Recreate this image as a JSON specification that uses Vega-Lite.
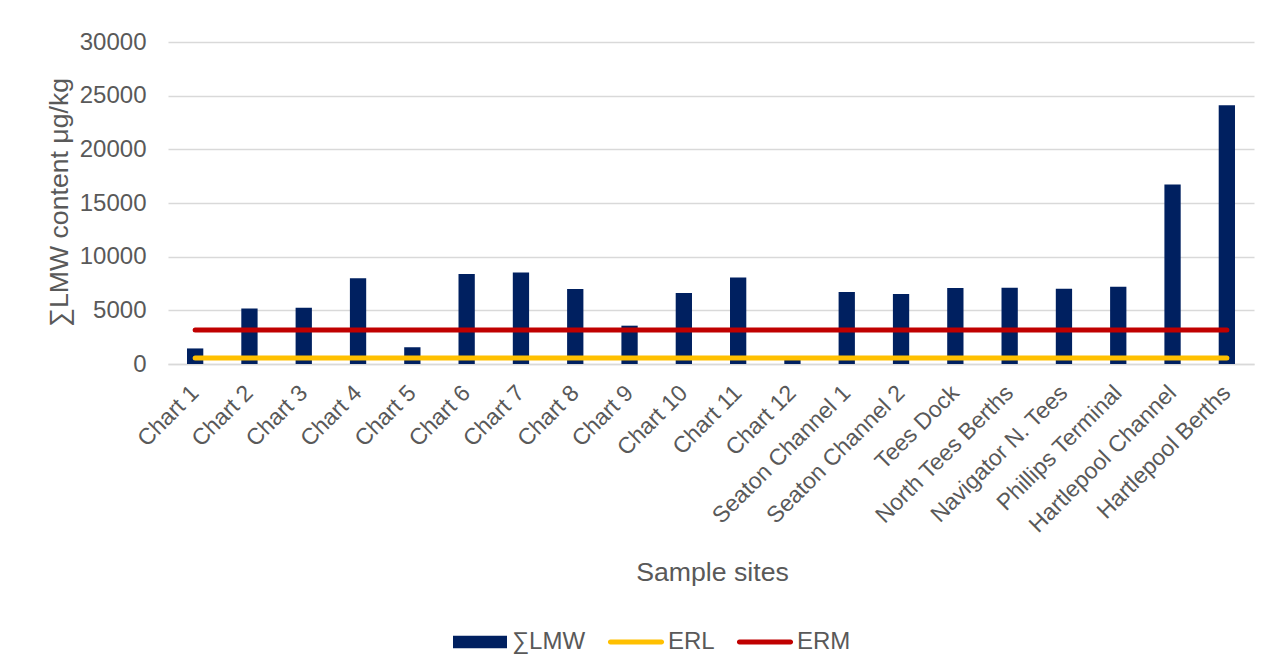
{
  "$schema": "https://vega.github.io/schema/vega-lite/v6.json",
  "autosize": "none",
  "width": 1086,
  "height": 322,
  "padding": {"left": 168, "top": 42, "right": 17, "bottom": 304},
  "background": "white",
  "config": {
    "font": "Liberation Sans",
    "view": {"stroke": null},
    "axis": {"labelColor": "#595959", "titleColor": "#595959", "labelFont": "Liberation Sans", "titleFont": "Liberation Sans", "titleFontWeight": "normal"}
  },
  "data": {"values": [
    {"site": "Chart 1", "lmw": 1450, "erl": 552, "erm": 3160},
    {"site": "Chart 2", "lmw": 5180, "erl": 552, "erm": 3160},
    {"site": "Chart 3", "lmw": 5250, "erl": 552, "erm": 3160},
    {"site": "Chart 4", "lmw": 7980, "erl": 552, "erm": 3160},
    {"site": "Chart 5", "lmw": 1550, "erl": 552, "erm": 3160},
    {"site": "Chart 6", "lmw": 8380, "erl": 552, "erm": 3160},
    {"site": "Chart 7", "lmw": 8520, "erl": 552, "erm": 3160},
    {"site": "Chart 8", "lmw": 6990, "erl": 552, "erm": 3160},
    {"site": "Chart 9", "lmw": 3570, "erl": 552, "erm": 3160},
    {"site": "Chart 10", "lmw": 6610, "erl": 552, "erm": 3160},
    {"site": "Chart 11", "lmw": 8060, "erl": 552, "erm": 3160},
    {"site": "Chart 12", "lmw": 400, "erl": 552, "erm": 3160},
    {"site": "Seaton Channel 1", "lmw": 6700, "erl": 552, "erm": 3160},
    {"site": "Seaton Channel 2", "lmw": 6520, "erl": 552, "erm": 3160},
    {"site": "Tees Dock", "lmw": 7080, "erl": 552, "erm": 3160},
    {"site": "North Tees Berths", "lmw": 7110, "erl": 552, "erm": 3160},
    {"site": "Navigator N. Tees", "lmw": 7020, "erl": 552, "erm": 3160},
    {"site": "Phillips Terminal", "lmw": 7200, "erl": 552, "erm": 3160},
    {"site": "Hartlepool Channel", "lmw": 16730, "erl": 552, "erm": 3160},
    {"site": "Hartlepool Berths", "lmw": 24110, "erl": 552, "erm": 3160}
  ]},
  "encoding": {
    "x": {
      "field": "site", "type": "nominal", "sort": null,
      "scale": {"paddingInner": 0.7, "paddingOuter": 0.35},
      "axis": {
        "title": "Sample sites", "titleFontSize": 26.67, "titleX": 544, "titleY": 208, "titleBaseline": "middle", "titleAlign": "center",
        "labelAngle": -45, "labelAlign": "right", "labelBaseline": "middle", "labelFontSize": 23, "labelPadding": 25, "labelLimit": 0,
        "ticks": false, "domainColor": "#D9D9D9", "domainWidth": 1.5, "grid": false, "labelOverlap": false
      }
    }
  },
  "layer": [
    {
      "mark": {"type": "bar"},
      "encoding": {
        "y": {
          "field": "lmw", "type": "quantitative",
          "scale": {"domain": [0, 30000], "nice": false},
          "axis": {
            "title": "∑LMW content μg/kg", "titleFontSize": 26.67, "titleAngle": 270, "titleX": -109, "titleY": 160, "titleBaseline": "middle", "titleAlign": "center",
            "values": [0, 5000, 10000, 15000, 20000, 25000, 30000], "format": "d",
            "labelFontSize": 24, "labelPadding": 22, "ticks": false, "domain": false,
            "gridColor": "#D9D9D9", "gridWidth": 1.5
          }
        },
        "color": {
          "datum": "∑LMW",
          "scale": {"domain": ["∑LMW", "ERL", "ERM"], "range": ["#002060", "#FFC000", "#C00000"]},
          "legend": {
            "title": null, "orient": "none", "legendX": 285, "legendY": 573, "direction": "horizontal",
            "symbolType": "M-1,-0.23H1V0.23H-1Z", "symbolSize": 2916, "labelFontSize": 24, "labelColor": "#595959", "labelOffset": 5, "columnPadding": 21,
            "labelFont": "Liberation Sans",
            "encode": {
              "symbols": {
                "update": {
                  "shape": {"signal": "datum.value === '∑LMW' ? 'M-1,-0.23H1V0.23H-1Z' : 'M-1.04,-0.23L-1.04,-0.23M1.04,0.23L1.04,0.23M-0.947,-0.0926H0.947A0.0926,0.0926 0 0 1 0.947,0.0926H-0.947A0.0926,0.0926 0 0 1 -0.947,-0.0926Z'"},
                  "fill": {"signal": "datum.value === 'ERL' ? '#FFC000' : datum.value === 'ERM' ? '#C00000' : '#002060'"},
                  "fillOpacity": {"value": 1},
                  "opacity": {"value": 1},
                  "stroke": {"value": "transparent"},
                  "strokeWidth": {"value": 0}
                }
              }
            }
          }
        }
      }
    },
    {
      "mark": {"type": "line", "strokeWidth": 5, "strokeCap": "round"},
      "encoding": {
        "y": {"field": "erl", "type": "quantitative"},
        "color": {"datum": "ERL"}
      }
    },
    {
      "mark": {"type": "line", "strokeWidth": 5, "strokeCap": "round"},
      "encoding": {
        "y": {"field": "erm", "type": "quantitative"},
        "color": {"datum": "ERM"}
      }
    }
  ]
}
